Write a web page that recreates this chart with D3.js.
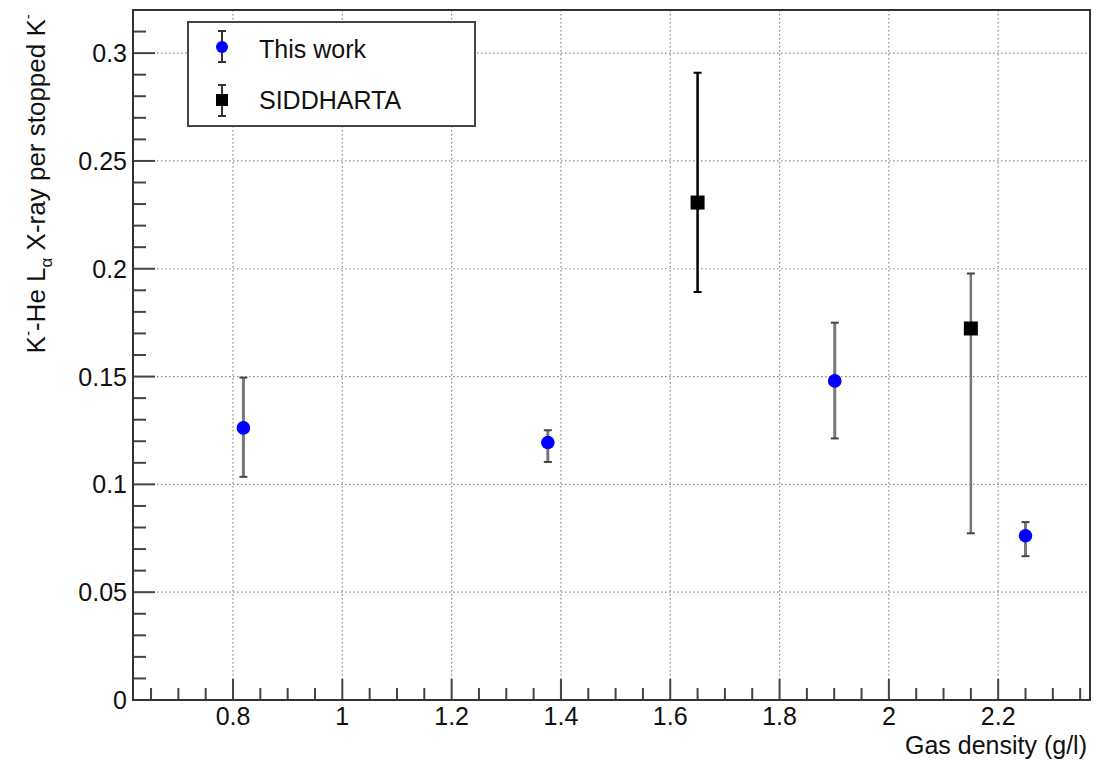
<!DOCTYPE html>
<html>
<head>
<meta charset="utf-8">
<script src="https://cdn.jsdelivr.net/npm/d3@7"></script>
<style>
  html, body { margin: 0; padding: 0; background: #fff; }
  svg { display: block; font-family: "Liberation Sans", Arial, Helvetica, sans-serif; }
</style>
</head>
<body>
<svg id="chart" width="1102" height="762"></svg>
<script>
// ---- Data ----
const thisWorkX    = [0.819, 1.376, 1.901, 2.250];
const thisWorkY    = [0.1262, 0.1194, 0.1480, 0.0762];
const thisWorkLow  = [0.1035, 0.1104, 0.1213, 0.0667];
const thisWorkHigh = [0.1495, 0.1251, 0.1750, 0.0825];

const siddX    = [1.650, 2.150];
const siddY    = [0.2307, 0.1723];
const siddLow  = [0.1892, 0.0773];
const siddHigh = [0.2909, 0.1978];
const siddBarColor = ["#000000", "#777777"];

const xTicks = [0.8, 1.0, 1.2, 1.4, 1.6, 1.8, 2.0, 2.2];
const xTickLabels = ["0.8", "1", "1.2", "1.4", "1.6", "1.8", "2", "2.2"];
const yTicks = [0, 0.05, 0.10, 0.15, 0.20, 0.25, 0.30];
const yTickLabels = ["0", "0.05", "0.1", "0.15", "0.2", "0.25", "0.3"];

const legendLabels = ["This work", "SIDDHARTA"];

// ---- Layout ----
const svg = d3.select("#chart");
const L = 133, R = 1090, T = 10, B = 700;
const x = d3.scaleLinear().domain([0.617, 2.368]).range([L, R]);
const y = d3.scaleLinear().domain([0, 0.32]).range([B, T]);

// grid
const grid = svg.append("g");
grid.selectAll("line.gx").data(xTicks).join("line")
  .attr("x1", d => x(d)).attr("x2", d => x(d))
  .attr("y1", T).attr("y2", B)
  .attr("stroke", "#888").attr("stroke-width", 1.2)
  .attr("stroke-dasharray", "1.5,2.5");
grid.selectAll("line.gy").data(yTicks.filter(d => d > 0)).join("line")
  .attr("x1", L).attr("x2", R)
  .attr("y1", d => y(d)).attr("y2", d => y(d))
  .attr("stroke", "#888").attr("stroke-width", 1.2)
  .attr("stroke-dasharray", "1.5,2.5");

// ticks
const axisG = svg.append("g").attr("stroke", "#444").attr("stroke-width", 2);
const xMinor = d3.range(13, 48).map(i => i * 0.05).filter(v => v >= 0.617 && v <= 2.368);
axisG.selectAll("line.xt").data(xMinor).join("line")
  .attr("x1", d => x(d)).attr("x2", d => x(d))
  .attr("y1", B)
  .attr("y2", d => (Math.abs(Math.round(d * 5) - d * 5) < 1e-6) ? B - 21 : B - 12);
const yMinor = d3.range(0, 33).map(i => i * 0.01);
axisG.selectAll("line.yt").data(yMinor).join("line")
  .attr("y1", d => y(d)).attr("y2", d => y(d))
  .attr("x1", L)
  .attr("x2", d => (Math.abs(Math.round(d * 20) - d * 20) < 1e-6) ? L + 22 : L + 13);

// frame
svg.append("rect").attr("x", L).attr("y", T).attr("width", R - L).attr("height", B - T)
  .attr("fill", "none").attr("stroke", "#333").attr("stroke-width", 2);

// tick labels
svg.append("g").selectAll("text").data(xTicks).join("text")
  .attr("x", d => x(d)).attr("y", 725)
  .attr("text-anchor", "middle").attr("font-size", 25).attr("fill", "#111")
  .text((d, i) => xTickLabels[i]);
svg.append("g").selectAll("text").data(yTicks).join("text")
  .attr("x", 127).attr("y", d => y(d) + 9)
  .attr("text-anchor", "end").attr("font-size", 25).attr("fill", "#111")
  .text((d, i) => yTickLabels[i]);

// axis titles
svg.append("text").attr("x", 1087).attr("y", 754)
  .attr("text-anchor", "end").attr("font-size", 25).attr("fill", "#111")
  .text("Gas density (g/l)");

const yt = svg.append("text")
  .attr("transform", "translate(45,12) rotate(-90)")
  .attr("text-anchor", "end").attr("font-size", 26).attr("fill", "#111");
yt.append("tspan").text("K");
yt.append("tspan").attr("font-size", 15).attr("dy", -12).text("-");
yt.append("tspan").attr("dy", 12).text("-He L");
yt.append("tspan").attr("font-size", 17).attr("dy", 7).text("α");
yt.append("tspan").attr("dy", -7).text(" X-ray per stopped K");
yt.append("tspan").attr("font-size", 15).attr("dy", -12).text("-");
yt.append("tspan").attr("dy", 12).text("\u200A");

// error bars helper
function errorBars(g, xs, lows, highs, colors, width) {
  g.selectAll("line.eb").data(xs).join("line")
    .attr("x1", d => x(d)).attr("x2", d => x(d))
    .attr("y1", (d, i) => y(lows[i])).attr("y2", (d, i) => y(highs[i]))
    .attr("stroke", (d, i) => colors[i]).attr("stroke-width", width);
  const caps = [];
  xs.forEach((d, i) => { caps.push([d, lows[i], colors[i]]); caps.push([d, highs[i], colors[i]]); });
  g.selectAll("line.cap").data(caps).join("line")
    .attr("x1", d => x(d[0]) - 4).attr("x2", d => x(d[0]) + 4)
    .attr("y1", d => y(d[1])).attr("y2", d => y(d[1]))
    .attr("stroke", d => d[2] === "#777777" ? "#444" : "#000").attr("stroke-width", 2);
}

// SIDDHARTA
const gS = svg.append("g");
errorBars(gS.append("g"), siddX, siddLow, siddHigh, siddBarColor, 2.5);
gS.selectAll("rect").data(siddX).join("rect")
  .attr("x", d => x(d) - 7).attr("y", (d, i) => y(siddY[i]) - 7)
  .attr("width", 14).attr("height", 14).attr("fill", "#000");

// This work
const gT = svg.append("g");
errorBars(gT.append("g"), thisWorkX, thisWorkLow, thisWorkHigh, thisWorkX.map(() => "#777777"), 3);
gT.selectAll("circle").data(thisWorkX).join("circle")
  .attr("cx", d => x(d)).attr("cy", (d, i) => y(thisWorkY[i]))
  .attr("r", 6.8).attr("fill", "#0000ff");

// legend
const lg = svg.append("g");
lg.append("rect").attr("x", 188).attr("y", 22).attr("width", 287).attr("height", 104)
  .attr("fill", "#fff").attr("stroke", "#444").attr("stroke-width", 2);
const lx = 222;
// entry 1
lg.append("line").attr("x1", lx).attr("x2", lx).attr("y1", 31).attr("y2", 62).attr("stroke", "#333").attr("stroke-width", 2);
lg.append("line").attr("x1", lx - 4).attr("x2", lx + 4).attr("y1", 31).attr("y2", 31).attr("stroke", "#333").attr("stroke-width", 2);
lg.append("line").attr("x1", lx - 4).attr("x2", lx + 4).attr("y1", 62).attr("y2", 62).attr("stroke", "#333").attr("stroke-width", 2);
lg.append("circle").attr("cx", lx).attr("cy", 47).attr("r", 6).attr("fill", "#0000ff");
lg.append("text").attr("x", 259).attr("y", 58).attr("font-size", 25).attr("fill", "#111").text(legendLabels[0]);
// entry 2
lg.append("line").attr("x1", lx).attr("x2", lx).attr("y1", 85).attr("y2", 116).attr("stroke", "#333").attr("stroke-width", 2);
lg.append("line").attr("x1", lx - 4).attr("x2", lx + 4).attr("y1", 85).attr("y2", 85).attr("stroke", "#333").attr("stroke-width", 2);
lg.append("line").attr("x1", lx - 4).attr("x2", lx + 4).attr("y1", 116).attr("y2", 116).attr("stroke", "#333").attr("stroke-width", 2);
lg.append("rect").attr("x", lx - 6).attr("y", 94).attr("width", 12).attr("height", 12).attr("fill", "#000");
lg.append("text").attr("x", 259).attr("y", 109).attr("font-size", 25).attr("fill", "#111").text(legendLabels[1]);
</script>
</body>
</html>
